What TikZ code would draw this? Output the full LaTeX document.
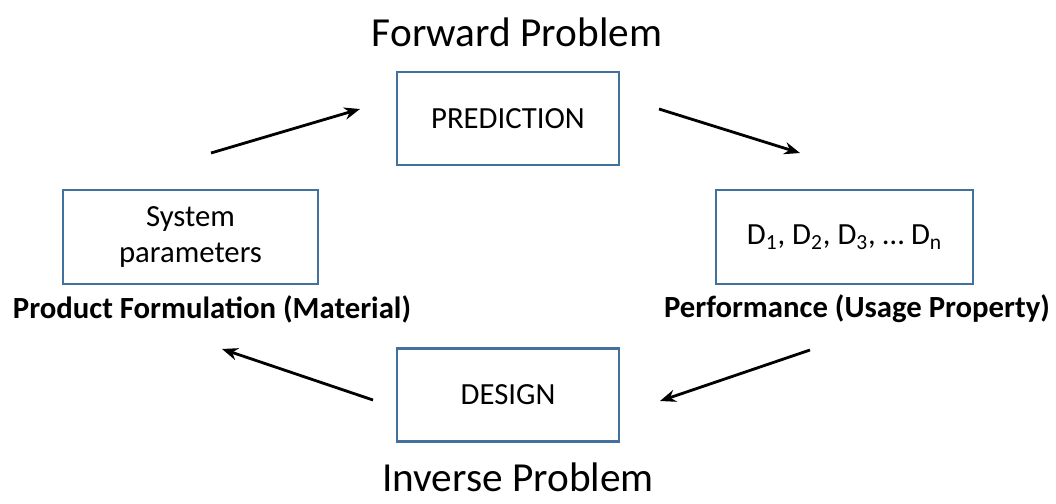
\documentclass[tikz,border=0pt]{standalone}
\usepackage{fontspec}
\setmainfont{Carlito}
\usetikzlibrary{arrows.meta, positioning}

\begin{document}
\begin{tikzpicture}[
    every node/.style={font=\fontsize{17.5}{21}\selectfont},
    boite/.style={draw=bordbleu, line width=1.6pt, minimum width=4.44cm, minimum height=1.86cm, align=center},
    fleche/.style={-{Stealth[length=9pt, width=7pt]}, line width=1.6pt, black},
    titre/.style={font=\fontsize{23.5}{28}\selectfont},
    legende/.style={font=\fontsize{17.5}{21}\selectfont\bfseries}
]
\definecolor{bordbleu}{RGB}{65,113,156}
\useasboundingbox (0, 0) rectangle (21.12, 10.06);

% Boites
\node[boite] (pred) at (10.16, 7.69) {PREDICTION};
\node[boite, minimum width=5.1cm, minimum height=1.88cm] (sys) at (3.81, 5.32) {System\\parameters};
\node[boite, minimum width=5.14cm, minimum height=1.88cm] (perf) at (16.89, 5.32) {D\textsubscript{1}, D\textsubscript{2}, D\textsubscript{3}, \dots\ D\textsubscript{n}};
\node[boite] (design) at (10.16, 2.16) {DESIGN};

% Titres
\node[titre] (forward) at (10.34, 9.42) {Forward Problem};
\node[titre, anchor=base, inner sep=0pt] (inverse) at (10.36, 0.24) {Inverse Problem};

% Legendes
\node[legende] (mat) at (4.24, 3.88) {Product Formulation (Material)};
\node[legende] (usage) at (17.14, 3.88) {Performance (Usage Property)};

% Extremites des fleches
\coordinate (a1) at (4.22, 7.00);
\coordinate (b1) at (7.20, 7.88);
\coordinate (a2) at (13.18, 7.88);
\coordinate (b2) at (16.00, 7.00);
\coordinate (a3) at (16.20, 3.06);
\coordinate (b3) at (13.20, 2.04);
\coordinate (a4) at (7.46, 2.06);
\coordinate (b4) at (4.44, 3.08);

% Cycle
\draw[fleche] (a1) -- (b1);
\draw[fleche] (a2) -- (b2);
\draw[fleche] (a3) -- (b3);
\draw[fleche] (a4) -- (b4);

\end{tikzpicture}
\end{document}
